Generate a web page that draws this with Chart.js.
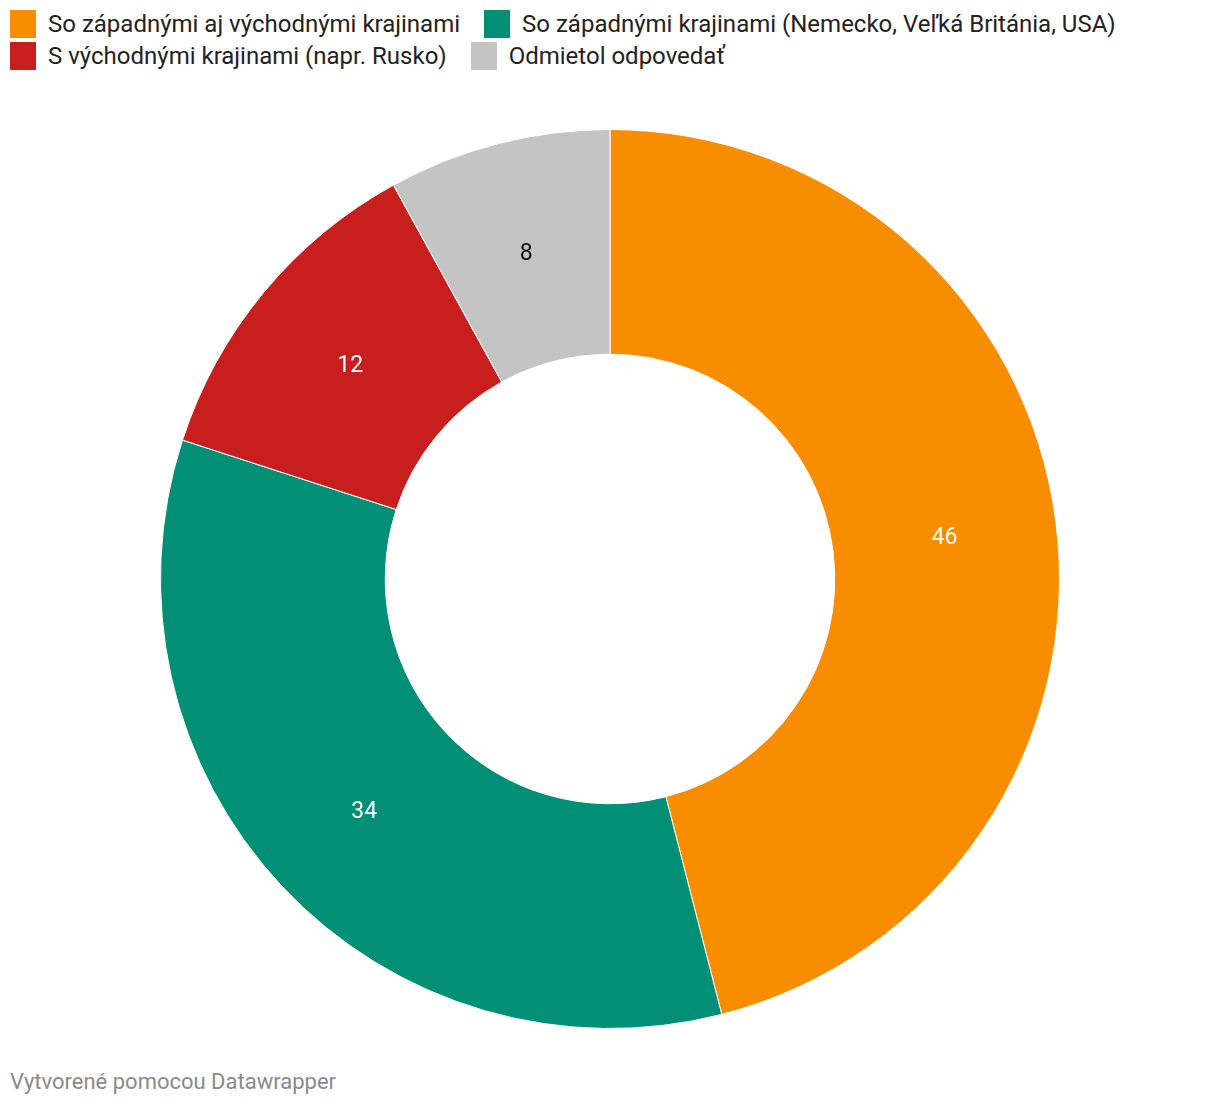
<!DOCTYPE html>
<html>
<head>
<meta charset="utf-8">
<script src="https://cdn.jsdelivr.net/npm/chart.js@4/dist/chart.umd.min.js"></script>
<style>
  html, body { margin: 0; padding: 0; background: #fff; width: 1220px; height: 1106px; overflow: hidden; font-family: Roboto, sans-serif; }
  #legend { position: absolute; left: 10px; top: 8px; width: 1210px; font-size: 24px; color: #222; }
  .row { display: flex; height: 32px; align-items: center; }
  .item { display: flex; align-items: center; margin-right: 24px; }
  .sw { width: 26px; height: 28px; margin-right: 12px; flex: none; }
  #wrap { position: absolute; left: 155px; top: 124px; width: 910px; height: 910px; }
  #footer { position: absolute; left: 10px; top: 1069px; font-size: 22px; color: #8a8a8a; }
</style>
</head>
<body>
<div id="legend"></div>
<div id="wrap"><canvas id="c"></canvas></div>
<div id="footer">Vytvorené pomocou Datawrapper</div>
<script>
const categories = [
  "So západnými aj východnými krajinami",
  "So západnými krajinami (Nemecko, Veľká Británia, USA)",
  "S východnými krajinami (napr. Rusko)",
  "Odmietol odpovedať"
];
const values = [46, 34, 12, 8];
const colors = ["#f98d00", "#019075", "#c81e1d", "#c4c4c4"];
const labelColors = ["#ffffff", "#ffffff", "#ffffff", "#111111"];
const legendRows = [[0, 1], [2, 3]];

const legend = document.getElementById('legend');
legendRows.forEach(r => {
  const row = document.createElement('div');
  row.className = 'row';
  r.forEach(i => {
    const it = document.createElement('div');
    it.className = 'item';
    it.innerHTML = '<span class="sw" style="background:' + colors[i] + '"></span><span>' + categories[i] + '</span>';
    row.appendChild(it);
  });
  legend.appendChild(row);
});

const labelPlugin = {
  id: 'sliceLabels',
  afterDatasetsDraw(chart) {
    const ctx = chart.ctx;
    const meta = chart.getDatasetMeta(0);
    ctx.save();
    ctx.font = '23px Roboto, sans-serif';
    ctx.textAlign = 'center';
    ctx.textBaseline = 'middle';
    meta.data.forEach((arc, i) => {
      const p = arc.getCenterPoint();
      ctx.fillStyle = labelColors[i];
      ctx.fillText(String(values[i]), p.x, p.y + 2);
    });
    ctx.restore();
  }
};

new Chart(document.getElementById('c'), {
  type: 'doughnut',
  data: {
    labels: categories,
    datasets: [{
      data: values,
      backgroundColor: colors,
      borderColor: '#ffffff',
      borderWidth: 1
    }]
  },
  options: {
    responsive: true,
    maintainAspectRatio: false,
    animation: false,
    cutout: '50%',
    layout: { padding: 5 },
    plugins: { legend: { display: false }, tooltip: { enabled: false } }
  },
  plugins: [labelPlugin]
});
</script>
</body>
</html>
